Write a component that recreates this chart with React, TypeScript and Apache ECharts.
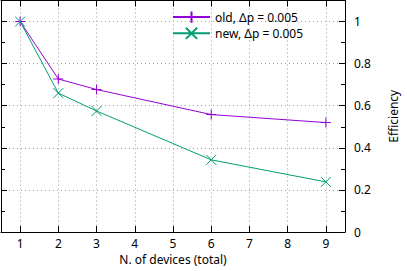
import React, { useEffect, useRef } from "react";
import * as echarts from "echarts";

const devices = [1, 2, 3, 6, 9];
const oldEff = [1.0, 0.727, 0.677, 0.558, 0.52];
const newEff = [1.0, 0.66, 0.575, 0.343, 0.238];
const xTicks = [1, 2, 3, 4, 5, 6, 7, 8, 9];
const yTickLabels = [0, 0.2, 0.4, 0.6, 0.8, 1];
const seriesNames = ["old, Δp = 0.005", "new, Δp = 0.005"];
const colors = ["#9400d3", "#009e73"];

const FONT = "Noto Sans";
const plusPath = "path://M5,0L5,10M0,5L10,5";
const crossPath = "path://M0,0L10,10M10,0L0,10";

export default function App() {
  const ref = useRef<HTMLDivElement>(null);
  useEffect(() => {
    const chart = echarts.init(ref.current!, null, { renderer: "svg" });
    const gridLine = { show: true, lineStyle: { color: "#a0a0a0", type: [1, 3], width: 1 } };
    const axisLine = { show: true, onZero: false, lineStyle: { color: "#000", width: 1 } };
    const xBase = {
      type: "value" as const,
      min: 0.5,
      max: 9.5,
      interval: 1,
      axisLine,
      axisTick: { show: true, inside: true, length: 6, lineStyle: { color: "#000" }, customValues: xTicks },
      minorTick: { show: false },
    };
    const yBase = {
      type: "value" as const,
      min: 0,
      max: 1.1,
      interval: 0.2,
      axisLine,
      axisTick: { show: true, inside: true, length: 6, lineStyle: { color: "#000" } },
      minorTick: { show: true, splitNumber: 2, length: 4, lineStyle: { color: "#000" } },
    };
    chart.setOption({
      animation: false,
      textStyle: { fontFamily: FONT },
      grid: { left: 1, right: 59, top: 0.5, bottom: 39, containLabel: false },
      legend: {
        left: 167,
        top: 4,
        orient: "vertical",
        itemWidth: 37,
        itemHeight: 14,
        itemGap: 0,
        textStyle: { fontFamily: FONT, fontSize: 12, color: "#000", lineHeight: 16 },
        data: seriesNames,
      },
      xAxis: [
        {
          ...xBase,
          position: "bottom",
          name: "N. of devices (total)",
          nameLocation: "middle",
          nameGap: 20,
          nameTextStyle: { fontFamily: FONT, fontSize: 12, color: "#000" },
          axisLabel: {
            show: true,
            color: "#000",
            fontFamily: FONT,
            fontSize: 12,
            margin: 5,
            customValues: xTicks,
            formatter: (v: number) => String(v),
          },
          splitLine: { ...gridLine },
        },
        {
          ...xBase,
          position: "top",
          axisLabel: { show: false },
          splitLine: { show: false },
        },
      ],
      yAxis: [
        {
          ...yBase,
          position: "right",
          name: "Efficiency",
          nameLocation: "middle",
          nameGap: 42,
          nameRotate: 90,
          nameTextStyle: { fontFamily: FONT, fontSize: 12, color: "#000" },
          axisLabel: {
            show: true,
            color: "#000",
            fontFamily: FONT,
            fontSize: 12,
            margin: 9,
            customValues: yTickLabels,
            formatter: (v: number) => String(Math.round(v * 10) / 10),
          },
          splitLine: { ...gridLine },
        },
        {
          ...yBase,
          position: "left",
          axisLabel: { show: false },
          splitLine: { show: false },
        },
      ],
      series: [
        {
          name: seriesNames[0],
          type: "line",
          xAxisIndex: 0,
          yAxisIndex: 0,
          data: devices.map((d, i) => [d, oldEff[i]]),
          symbol: plusPath,
          symbolSize: 10,
          showAllSymbol: true,
          lineStyle: { color: colors[0], width: 1 },
          itemStyle: { color: "none", borderColor: colors[0], borderWidth: 1 },
          color: colors[0],
        },
        {
          name: seriesNames[1],
          type: "line",
          xAxisIndex: 0,
          yAxisIndex: 0,
          data: devices.map((d, i) => [d, newEff[i]]),
          symbol: crossPath,
          symbolSize: 10,
          showAllSymbol: true,
          lineStyle: { color: colors[1], width: 1 },
          itemStyle: { color: "none", borderColor: colors[1], borderWidth: 1 },
          color: colors[1],
        },
      ],
    });
    return () => chart.dispose();
  }, []);
  return <div ref={ref} style={{ width: 407, height: 271, position: "absolute", left: 0, top: 0, background: "#fff" }} />;
}
